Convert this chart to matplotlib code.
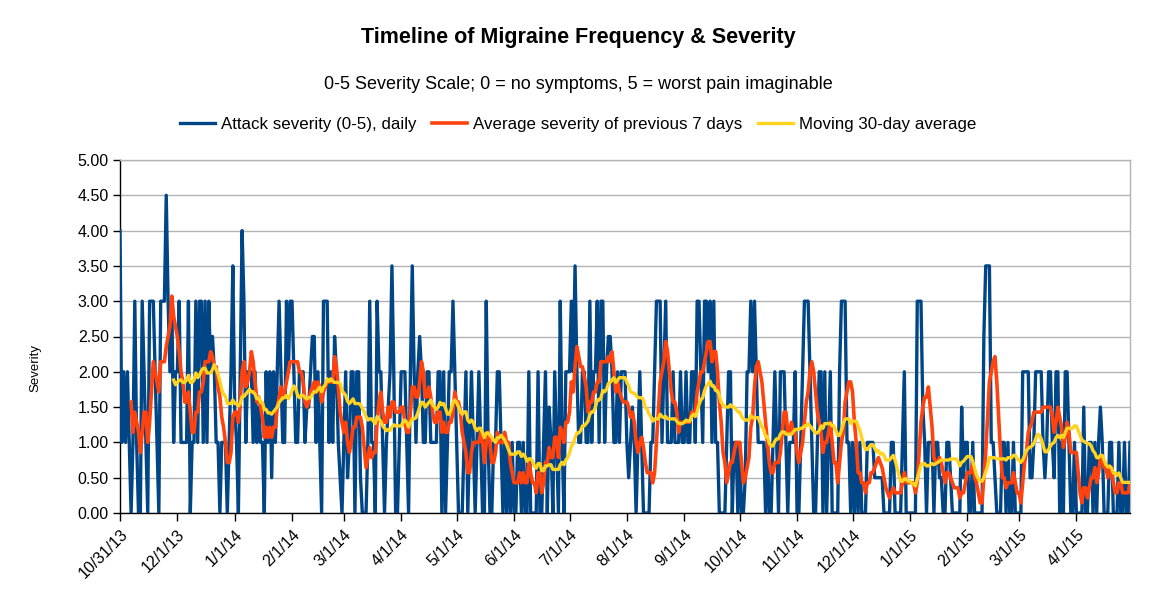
import numpy as np
import pandas as pd
import matplotlib
matplotlib.use("Agg")
import matplotlib.pyplot as plt

plt.rcParams['font.family'] = ['Liberation Sans', 'DejaVu Sans']

# ---- data: daily attack severity (0-5), one list per calendar month ----
start_date = "2013-10-31"
sev_2013_10 = [4]
sev_2013_11 = [1, 2, 1, 2, 1, 0, 1, 3, 1, 0, 0, 3, 2, 1, 0, 3, 3, 3, 2, 1,
               0, 3, 3, 3, 4.5, 3, 2, 3, 1, 2]
sev_2013_12 = [2, 3, 1, 1, 1, 1, 3, 0, 1, 1, 3, 1, 3, 3, 1, 3, 1, 3, 2, 2.5,
               2, 1, 1, 0, 1, 1, 1, 0, 1, 2, 3.5]
sev_2014_01 = [1.5, 1, 0, 2, 4, 3, 1, 2, 2, 2, 1, 2, 1, 1.5, 1, 1, 0, 2, 1, 2,
               0.5, 2, 1, 2, 3, 2, 1, 1, 3, 2, 3]
sev_2014_02 = [3, 2, 1, 1, 2, 2, 2, 1, 1.5, 1.5, 2, 2.5, 2.5, 1, 2, 1, 0, 3, 3, 3,
               1, 2, 1, 2.5, 2, 1, 0.5, 0]
sev_2014_03 = [1, 2, 0.5, 1, 2, 2, 0, 2, 2, 0.5, 0, 0, 0, 1, 3, 1, 1, 0, 3, 2,
               2, 1, 0, 1, 1.5, 2, 3.5, 2, 0, 0, 1]
sev_2014_04 = [2, 2, 2, 1, 0, 2, 3.5, 2, 1, 2, 2.5, 2, 1, 1, 2, 2, 1, 1, 1, 1,
               2, 2, 0, 2, 0, 1, 2, 2, 3, 2]
sev_2014_05 = [1, 0, 0, 0, 1, 2, 0, 1, 2, 1, 0, 1, 2, 1, 0, 0, 3, 1, 0, 0,
               1, 1, 2, 2, 1, 0, 1, 0, 1, 0, 1]
sev_2014_06 = [0, 0, 1, 1, 0, 1, 0, 0, 2, 0, 0, 0, 0, 2, 0, 0, 1, 2, 0, 1.5,
               1, 0, 2, 1, 0, 3, 1, 0, 2, 2]
sev_2014_07 = [2, 3, 2, 3.5, 2, 1, 1, 2, 2, 1, 1, 3, 1, 2, 2, 3, 1, 3, 3, 1,
               2, 2.5, 2.5, 2, 1, 1, 2, 1, 2, 2, 2]
sev_2014_08 = [1, 0.5, 1, 1.5, 1, 0, 1, 2, 1, 0, 0, 0, 0, 1, 1, 2, 3, 3, 3, 1,
               2, 3, 1, 1, 1, 2, 1, 1, 1, 2, 1]
sev_2014_09 = [1, 2, 1, 1, 2, 2, 1, 3, 3, 2, 1, 3, 3, 2, 3, 1, 3, 1, 1, 0,
               0, 0, 0, 1, 2, 2, 0, 1, 1, 0]
sev_2014_10 = [1, 0, 0, 0.5, 2, 2, 3, 2, 3, 2, 1, 1, 1, 1, 0, 1, 0, 0, 1, 2,
               1, 0, 2, 2, 2, 1, 0, 1, 1, 1, 2]
sev_2014_11 = [0, 0, 1, 2, 3, 3, 3, 2, 1, 0, 0, 1, 2, 2, 0, 2, 0, 1, 2, 0,
               0, 0, 0, 2, 3, 3, 3, 1, 1, 0]
sev_2014_12 = [1, 0, 1, 0, 1, 0, 0, 0, 1, 1, 1, 1, 0.5, 0.5, 0.5, 0.5, 0.5, 0, 0, 0,
               0, 1, 1, 0, 0, 0, 0, 1, 2, 0, 0]
sev_2015_01 = [0, 0, 0, 0, 3, 3, 3, 1.5, 1, 0, 1, 1, 1, 0, 1, 1, 0.5, 0.5, 0, 0,
               1, 1, 0.5, 0, 0, 0, 0, 0, 1.5, 0.5, 1]
sev_2015_02 = [1, 0, 0, 1, 0, 0, 0, 0, 0, 2.5, 3.5, 3.5, 3.5, 1, 1, 0.5, 0, 0, 0, 1,
               1, 0, 1, 0, 0, 1, 0, 0]
sev_2015_03 = [0, 0, 2, 2, 2, 2, 0.5, 0.5, 1, 2, 2, 2, 2, 1, 0.5, 1, 2, 2, 1, 0.5,
               2, 2, 0, 1, 0, 2, 2, 1, 0, 0, 1]
sev_2015_04 = [0, 0, 0, 0, 1.5, 0, 0, 1, 1, 0, 1, 0, 1, 1.5, 1, 0, 0, 0, 1, 1,
               0, 0, 0, 1, 0, 0, 1, 0, 0, 1]

x_tick_labels = ["10/31/13", "12/1/13", "1/1/14", "2/1/14", "3/1/14", "4/1/14",
                 "5/1/14", "6/1/14", "7/1/14", "8/1/14", "9/1/14", "10/1/14",
                 "11/1/14", "12/1/14", "1/1/15", "2/1/15", "3/1/15", "4/1/15"]
y_ticks = [0, 0.5, 1, 1.5, 2, 2.5, 3, 3.5, 4, 4.5, 5]

series_names = ["Attack severity (0-5), daily",
                "Average severity of previous 7 days",
                "Moving 30-day average"]
colors = ["#004586", "#ff420e", "#ffd320"]

months = [sev_2013_10, sev_2013_11, sev_2013_12, sev_2014_01, sev_2014_02,
          sev_2014_03, sev_2014_04, sev_2014_05, sev_2014_06, sev_2014_07,
          sev_2014_08, sev_2014_09, sev_2014_10, sev_2014_11, sev_2014_12,
          sev_2015_01, sev_2015_02, sev_2015_03, sev_2015_04]
daily = np.concatenate([np.asarray(m, dtype=float) for m in months])
dates = pd.date_range(start_date, periods=len(daily), freq="D")
s = pd.Series(daily, index=dates)
avg7 = s.rolling(7).mean()
avg30 = s.rolling(30).mean()

W, H = 1156, 596
fig = plt.figure(figsize=(W / 100, H / 100), dpi=100)
L, R, T, B = 120, 1130, 160, 513
ax = fig.add_axes([L / W, 1 - B / H, (R - L) / W, (B - T) / H])

ax.plot(dates, s.values, color=colors[0], lw=2.4, solid_joinstyle="round",
        label=series_names[0], zorder=3)
ax.plot(dates, avg7.values, color=colors[1], lw=2.6, solid_joinstyle="round",
        label=series_names[1], zorder=4)
ax.plot(dates, avg30.values, color=colors[2], lw=2.4, solid_joinstyle="round",
        label=series_names[2], zorder=5)

ax.set_xlim(dates[0], dates[-1])
ax.set_ylim(0, 5)
ax.set_yticks(y_ticks)
ax.set_yticklabels([f"{v:.2f}" for v in y_ticks], fontsize=11.5)
tick_dates = pd.to_datetime(x_tick_labels, format="%m/%d/%y")
ax.set_xticks(tick_dates)
ax.set_xticklabels(x_tick_labels, rotation=45, ha="right", rotation_mode="anchor",
                   fontsize=11.5)
ax.tick_params(axis="y", length=5, width=1, color="black", pad=3)
ax.tick_params(axis="x", length=6, width=1, color="black", pad=4)

ax.grid(axis="y", color="#b3b3b3", lw=1)
ax.set_axisbelow(True)
for side in ("top", "right"):
    ax.spines[side].set_color("#b3b3b3")
    ax.spines[side].set_linewidth(1)
for side in ("left", "bottom"):
    ax.spines[side].set_color("black")
    ax.spines[side].set_linewidth(1)

fig.text(0.5, 1 - 38 / H, "Timeline of Migraine Frequency & Severity",
         ha="center", va="center", fontsize=15.5, fontweight="bold")
fig.text(0.5, 1 - 85 / H, "0-5 Severity Scale; 0 = no symptoms, 5 = worst pain imaginable",
         ha="center", va="center", fontsize=13)
fig.text(35 / W, 1 - 368 / H, "Severity", rotation=90, ha="center", va="center",
         fontsize=9.5)

fig.legend(loc="center", bbox_to_anchor=(0.5, 1 - 124 / H), ncol=3, frameon=False,
           fontsize=12.2, handlelength=2.05, handletextpad=0.35, columnspacing=0.95)

fig.savefig("out.png", dpi=100)
